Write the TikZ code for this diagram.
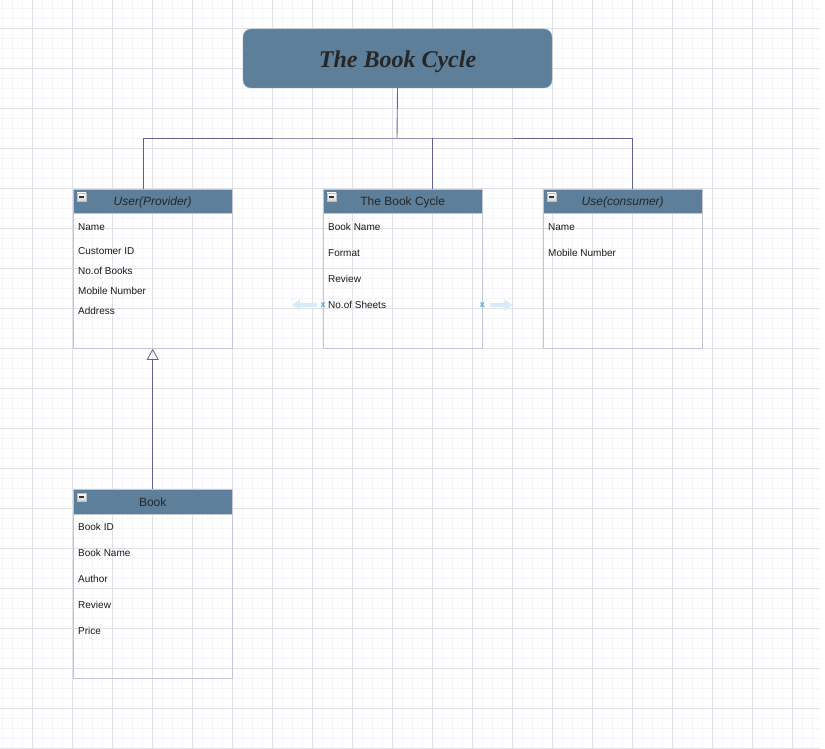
\documentclass[tikz,border=0pt]{standalone}
\usepackage{fontspec}
\setmainfont{Liberation Serif}
\setsansfont{Liberation Sans}
\usepackage{tikz}
\usetikzlibrary{arrows.meta}
\usetikzlibrary{positioning}
\definecolor{headblue}{HTML}{5D7F9A}
\definecolor{boxline}{HTML}{C4C4D6}
\definecolor{connline}{HTML}{62628F}
\definecolor{gridmajor}{HTML}{E0E0E6}
\definecolor{gridminor}{HTML}{F5F5F7}
\definecolor{hintblue}{HTML}{D6ECF8}
\definecolor{markblue}{HTML}{4AA6DA}

\begin{document}
\begin{tikzpicture}[x=1pt,y=-1pt]
  \tikzset{title/.style = {shape=rectangle,rounded corners=8pt,fill=headblue,draw=headblue!70,minimum width=309pt,minimum height=59pt,inner sep=0pt,text height=21pt,text depth=2pt,font=\fontsize{24}{26}\selectfont\bfseries\itshape,text=black!85}}
  \tikzset{classhead/.style = {shape=rectangle,fill=headblue,draw=boxline,minimum width=159pt,minimum height=24pt,inner sep=0pt,text height=10.5pt,text depth=1.5pt,anchor=north west,font=\sffamily\fontsize{12}{14}\selectfont,text=black!85}}
  \tikzset{classbody/.style = {shape=rectangle,draw=boxline,minimum width=159pt,inner sep=0pt,anchor=north}}
  \tikzset{attr/.style = {anchor=west,inner sep=0pt,font=\sffamily\fontsize{10}{12}\selectfont,text=black!90}}
  \tikzset{minus/.style = {shape=rectangle,top color=white,bottom color=gray!35,draw=gray!50,minimum width=9pt,minimum height=8pt,inner sep=0pt,path picture={\draw[black!80,line width=1.3pt] ([xshift=2pt]path picture bounding box.west) -- ([xshift=-2pt]path picture bounding box.east);}}}
  \tikzset{conn/.style = {draw=connline,line width=0.9pt}}
  \tikzset{hint/.style = {draw=hintblue,line width=4pt,-{Triangle[length=8pt,width=11pt]}}}

  % grid
  \useasboundingbox (0,0) rectangle (825,749);
  \foreach \x in {2,12,...,812} \draw[gridminor,line width=0.6pt] (\x,0) -- (\x,748);
  \foreach \y in {8,18,...,748} \draw[gridminor,line width=0.6pt] (0,\y) -- (820,\y);
  \foreach \x in {32,72,...,792} \draw[gridmajor,line width=0.8pt] (\x,0) -- (\x,748);
  \foreach \y in {28,68,...,748} \draw[gridmajor,line width=0.8pt] (0,\y) -- (820,\y);

  \node[title] (title) at (397.5,58.5) {The Book Cycle};

  \node[classhead] (uhead) at (73,189) {\itshape User(Provider)};
  \node[classbody,minimum height=135pt,below=0pt of uhead] (ubody) {};
  \node[classhead] (chead) at (323,189) {The Book Cycle};
  \node[classbody,minimum height=135pt,below=0pt of chead] (cbody) {};
  \node[classhead] (rhead) at (543,189) {\itshape Use(consumer)};
  \node[classbody,minimum height=135pt,below=0pt of rhead] (rbody) {};
  \node[classhead,minimum height=25pt] (bhead) at (73,489) {Book};
  \node[classbody,minimum height=164pt,below=0pt of bhead] (bbody) {};

  \foreach \h in {uhead,chead,rhead,bhead}
    \node[minus] at ([xshift=8.5pt,yshift=-8pt]\h.north west) {};

  % attributes
  \foreach \n/\y/\t in {un/227/Name, ucid/251/Customer ID, unob/271/No.of Books, umob/291/Mobile Number, uadr/311/Address}
    \node[attr] (\n) at (78,\y) {\t};
  \foreach \n/\y/\t in {cname/227/Book Name, cfmt/253/Format, crev/279/Review, csheet/305/No.of Sheets}
    \node[attr] (\n) at (328,\y) {\t};
  \foreach \n/\y/\t in {rn/227/Name, rmob/253/Mobile Number}
    \node[attr] (\n) at (548,\y) {\t};
  \foreach \n/\y/\t in {bid/527/Book ID, bname/553/Book Name, bauth/579/Author, brev/605/Review, bprice/631/Price}
    \node[attr] (\n) at (78,\y) {\t};

  % connectors
  \coordinate (bus) at (397,138);
  \coordinate (udrop) at ([xshift=-9.5pt]uhead.north);
  \coordinate (cdrop) at ([xshift=29.5pt]chead.north);
  \coordinate (rdrop) at ([xshift=9.5pt]rhead.north);
  \draw[conn] (title.south) -- (bus);
  \draw[conn] (udrop) |- (bus) -| (rdrop);
  \draw[conn] (cdrop) -- (cdrop |- bus);
  \draw[conn,-{Triangle[open,length=11pt,width=12pt,line width=0.8pt]}] (bhead.north) -- (ubody.south);

  % selection hints
  \coordinate (lmark) at (cbody.west |- csheet);
  \coordinate (rmark) at (cbody.east |- csheet);
  \draw[hint] ([xshift=-6pt]lmark) -- ([xshift=-31pt]lmark);
  \draw[hint] ([xshift=8pt]rmark) -- ([xshift=30pt]rmark);
  \foreach \m in {lmark,rmark}
    \node[text=markblue,font=\sffamily\bfseries\fontsize{9}{9}\selectfont,inner sep=0pt] at (\m) {x};
\end{tikzpicture}
\end{document}
